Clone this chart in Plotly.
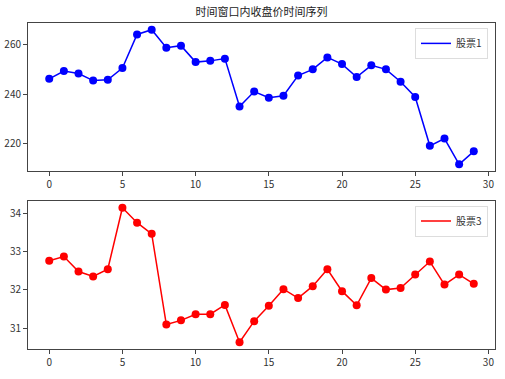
import plotly.graph_objects as go

x_idx = list(range(30))
stock1 = [246.1, 249.2, 248.2, 245.4, 245.7, 250.4, 263.9, 265.8, 258.6, 259.4,
          252.8, 253.3, 254.2, 235.0, 241.0, 238.5, 239.3, 247.4, 249.9, 254.7,
          252.0, 246.8, 251.5, 249.9, 244.9, 238.8, 219.2, 222.1, 211.8, 217.0]
stock3 = [32.76, 32.87, 32.48, 32.35, 32.54, 34.14, 33.75, 33.46, 31.10, 31.21,
          31.37, 31.37, 31.61, 30.64, 31.19, 31.59, 32.02, 31.79, 32.10, 32.54,
          31.97, 31.60, 32.31, 32.01, 32.05, 32.40, 32.74, 32.14, 32.40, 32.16]
name1 = "股票1"
name3 = "股票3"
title = "时间窗口内收盘价时间序列"
xticks = [0, 5, 10, 15, 20, 25, 30]
yticks1 = [220, 240, 260]
yticks3 = [31, 32, 33, 34]

FONT = "Noto Sans CJK SC"

fig = go.Figure()
# data traces
fig.add_trace(go.Scatter(x=x_idx, y=stock1, mode="lines+markers", name=name1,
                         line=dict(color="blue", width=1.5),
                         marker=dict(color="blue", size=8),
                         xaxis="x", yaxis="y", showlegend=False))
fig.add_trace(go.Scatter(x=x_idx, y=stock3, mode="lines+markers", name=name3,
                         line=dict(color="red", width=1.5),
                         marker=dict(color="red", size=8),
                         xaxis="x2", yaxis="y2", showlegend=False))
# legend entries (line only, as in the reference)
fig.add_trace(go.Scatter(x=[None], y=[None], mode="lines", name=name1,
                         line=dict(color="blue", width=1.5),
                         xaxis="x", yaxis="y", legend="legend"))
fig.add_trace(go.Scatter(x=[None], y=[None], mode="lines", name=name3,
                         line=dict(color="red", width=1.5),
                         xaxis="x2", yaxis="y2", legend="legend2"))

def pad(vals, frac=0.05):
    lo, hi = min(vals), max(vals)
    d = (hi - lo) * frac
    return [lo - d, hi + d]

axis_common = dict(showline=True, mirror=True, linecolor="#444", linewidth=1,
                   ticks="outside", ticklen=4, tickcolor="#444", showgrid=False,
                   zeroline=False, automargin=False,
                   tickfont=dict(family=FONT, size=10, color="#333"))

xr = pad(x_idx)
fig.update_layout(
    width=505, height=379,
    margin=dict(l=28, r=10, t=23, b=30, autoexpand=False),
    paper_bgcolor="white", plot_bgcolor="white",
    font=dict(family=FONT, size=10, color="#333"),
    xaxis=dict(domain=[0, 1], anchor="y", range=xr, tickvals=xticks, **axis_common),
    yaxis=dict(domain=[0.546, 1.0], anchor="x", range=pad(stock1), tickvals=yticks1, **axis_common),
    xaxis2=dict(domain=[0, 1], anchor="y2", range=xr, tickvals=xticks, **axis_common),
    yaxis2=dict(domain=[0.0, 0.454], anchor="x2", range=pad(stock3), tickvals=yticks3, **axis_common),
    legend=dict(x=0.985, y=0.985, xanchor="right", yanchor="top",
                bgcolor="rgba(255,255,255,0.8)", bordercolor="#ddd", borderwidth=1,
                itemwidth=30, font=dict(family=FONT, size=10, color="#333")),
    legend2=dict(x=0.985, y=0.44, xanchor="right", yanchor="top",
                 bgcolor="rgba(255,255,255,0.8)", bordercolor="#ddd", borderwidth=1,
                 itemwidth=30, font=dict(family=FONT, size=10, color="#333")),
    showlegend=True,
    title=dict(text=title, x=0.5, xref="paper", y=1 - 12 / 379, yref="container",
               yanchor="middle", font=dict(family=FONT, size=11, color="#222")),
)

fig.write_html("out.html", config={"displayModeBar": False},
               post_script="document.body.style.margin='0';document.body.style.overflow='hidden';")
